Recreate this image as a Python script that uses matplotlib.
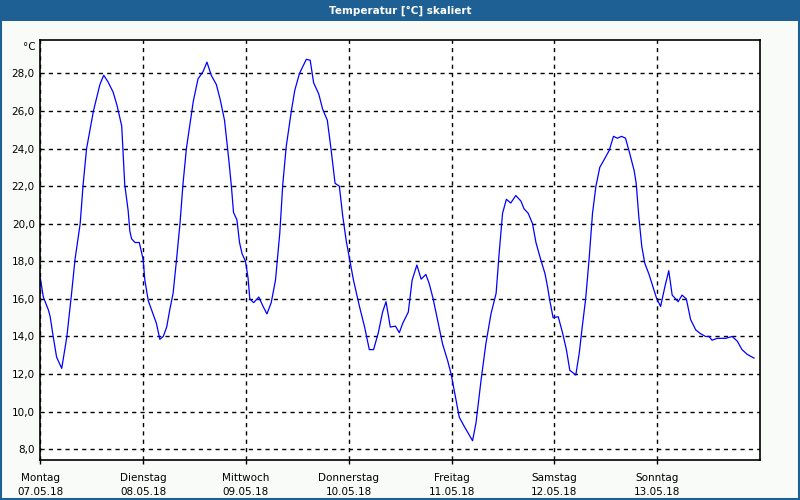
import matplotlib
matplotlib.use("Agg")
import matplotlib.pyplot as plt
from matplotlib.patches import Rectangle

# Stunden seit 07.05.18 00:00 und Temperatur in °C
stunden = [0.0, 0.7, 1.9, 2.3, 3.0, 3.8, 5.0, 6.2, 7.3, 8.1, 9.3, 10.0, 10.8, 12.4, 13.9, 14.8,
	15.8, 17.0, 17.9, 19.0, 19.7, 20.5, 20.9, 21.3, 22.1, 23.1, 24.0, 24.4, 25.2, 26.3, 27.1,
	27.9, 28.7, 29.5, 30.2, 31.0, 31.8, 32.6, 33.3, 34.1, 35.7, 36.8, 38.0, 38.9, 39.9, 41.1,
	42.0, 43.0, 44.0, 44.6, 45.1, 45.9, 46.5, 47.1, 47.9, 48.5, 48.9, 49.8, 51.0, 52.0, 52.9,
	53.9, 54.9, 55.9, 56.6, 57.4, 58.6, 59.4, 60.5, 62.1, 63.0, 63.8, 65.0, 65.9, 67.0, 67.9,
	68.8, 69.8, 70.6, 71.4, 72.3, 73.1, 74.5, 75.7, 76.8, 77.8, 78.9, 79.9, 80.7, 81.7, 82.9,
	83.8, 84.6, 85.9, 86.8, 87.9, 88.9, 90.0, 90.8, 91.7, 92.7, 93.9, 95.1, 95.9, 96.9, 97.8,
	99.0, 100.9, 101.7, 102.9, 104.0, 105.2, 106.4, 107.1, 107.9, 108.8, 109.8, 111.0, 112.2,
	112.9, 113.9, 114.9, 115.7, 116.8, 117.8, 118.4, 118.9, 119.7, 120.9, 121.9, 122.8, 123.6,
	125.0, 125.8, 126.5, 127.3, 128.1, 128.5, 128.9, 129.7, 130.6, 131.6, 132.8, 133.8, 134.7,
	135.7, 136.6, 137.4, 138.6, 139.1, 139.7, 140.4, 141.1, 142.1, 143.0, 143.9, 144.8, 145.8,
	146.7, 147.5, 148.9, 149.8, 150.8, 151.8, 153.0, 154.1, 155.3, 156.1, 156.8, 158.0, 160.0,
	161.5, 162.7, 163.8, 165.0, 166.6]
temperatur = [17.1, 16.1, 15.4, 15.05, 14.0, 12.9, 12.3, 14.0, 16.3, 18.1, 20.0, 22.1, 24.0, 26.0,
	27.4, 27.9, 27.55, 27.0, 26.3, 25.2, 22.1, 20.7, 19.6, 19.2, 19.0, 19.0, 18.1, 17.0, 15.9,
	15.2, 14.7, 13.85, 14.0, 14.5, 15.4, 16.3, 18.1, 20.0, 22.1, 24.0, 26.5, 27.7, 28.1, 28.6,
	27.9, 27.4, 26.6, 25.5, 23.4, 22.0, 20.6, 20.2, 19.0, 18.4, 18.0, 17.1, 16.0, 15.8, 16.1,
	15.6, 15.2, 15.8, 17.0, 19.5, 22.1, 24.1, 26.0, 27.1, 28.0, 28.75, 28.7, 27.5, 26.9, 26.1,
	25.5, 23.9, 22.15, 22.0, 20.4, 19.1, 18.0, 17.0, 15.6, 14.5, 13.3, 13.3, 14.2, 15.3, 15.85,
	14.5, 14.55, 14.2, 14.7, 15.3, 17.0, 17.8, 17.05, 17.3, 16.8, 16.0, 14.9, 13.6, 12.7, 12.0,
	10.8, 9.7, 9.2, 8.45, 9.4, 11.7, 13.6, 15.2, 16.3, 18.4, 20.55, 21.3, 21.1, 21.5, 21.2,
	20.8, 20.55, 20.0, 19.0, 18.1, 17.35, 16.65, 15.95, 15.0, 15.05, 14.2, 13.3, 12.2, 11.95,
	13.1, 14.5, 16.0, 18.1, 19.3, 20.55, 22.0, 23.0, 23.4, 23.9, 24.65, 24.55, 24.65, 24.55,
	23.9, 22.85, 22.15, 20.4, 18.8, 17.9, 17.3, 16.65, 16.0, 15.6, 16.65, 17.5, 16.2, 15.85,
	16.2, 16.0, 14.9, 14.35, 14.15, 14.0, 14.0, 13.8, 13.9, 13.9, 14.0, 13.75, 13.3, 13.05,
	12.85]

tage = ["Montag", "Dienstag", "Mittwoch", "Donnerstag", "Freitag", "Samstag", "Sonntag"]
daten = ["07.05.18", "08.05.18", "09.05.18", "10.05.18", "11.05.18", "12.05.18", "13.05.18"]
y_ticks = [8, 10, 12, 14, 16, 18, 20, 22, 24, 26, 28]

blau = "#1f6094"

fig = plt.figure(figsize=(8, 5), dpi=100)
fig.patch.set_facecolor("#f9fbf9")

# Titelleiste und Rahmen
fig.add_artist(Rectangle((0, 0.959), 1, 0.041, transform=fig.transFigure,
	facecolor=blau, edgecolor="none"))
fig.add_artist(Rectangle((0.0012, 0.002), 0.9976, 0.99, transform=fig.transFigure,
	facecolor="none", edgecolor=blau, linewidth=1.5))
fig.text(0.5, 0.979, "Temperatur [°C] skaliert", color="white", fontsize=7.5,
	fontweight="bold", ha="center", va="center")

ax = fig.add_axes([0.0504, 0.0794, 0.8996, 0.84])
ax.set_facecolor("white")
ax.plot(stunden, temperatur, color="#0000ff", linewidth=0.9)

ax.set_xlim(0, 168)
ax.set_ylim(7.41, 29.76)

ax.set_xticks([24 * i for i in range(7)])
ax.set_xticklabels([t + "\n" + d for t, d in zip(tage, daten)], fontsize=7.5, linespacing=1.55)
ax.set_yticks(y_ticks)
ax.set_yticklabels([("%.1f" % v).replace(".", ",") for v in y_ticks], fontsize=7.5)

ax.tick_params(axis="x", length=3, width=1, direction="out", pad=6, color="black")
ax.tick_params(axis="y", length=0, pad=4)

ax.grid(True, color="black", linestyle=(0, (3, 3)), linewidth=1)
for s in ax.spines.values():
	s.set_color("black")
	s.set_linewidth(1.2)

fig.text(0.045, 0.907, "°C", fontsize=7.5, ha="right", va="center")

fig.savefig("out.png", dpi=100, facecolor=fig.get_facecolor())
